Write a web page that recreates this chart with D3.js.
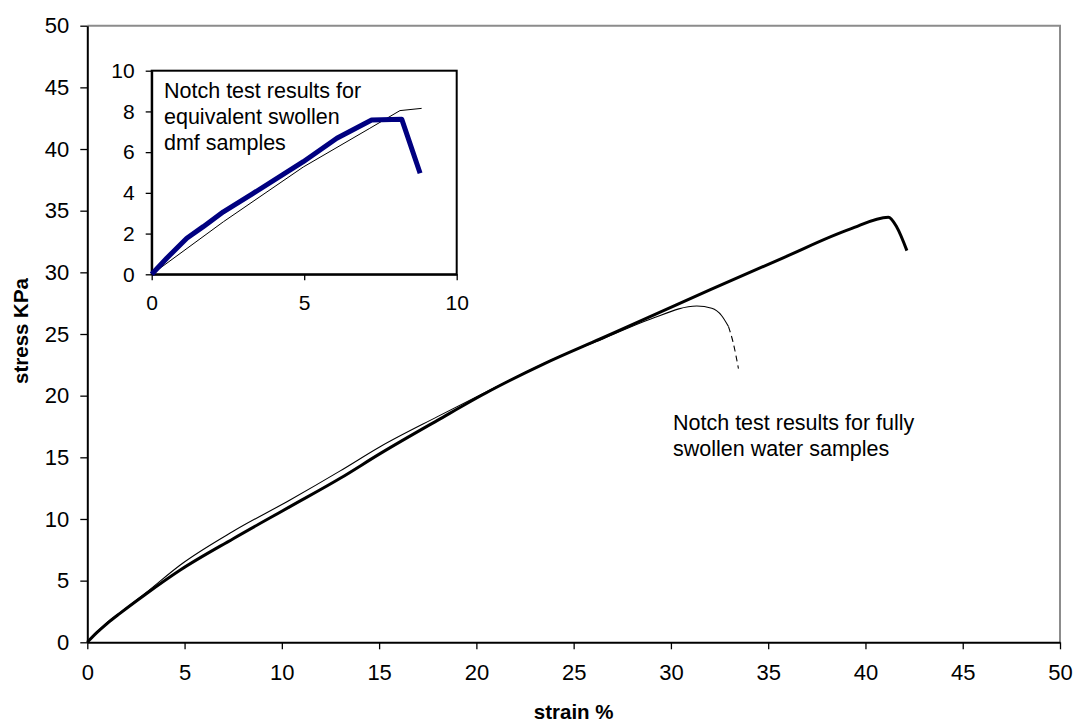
<!DOCTYPE html>
<html>
<head>
<meta charset="utf-8">
<script src="https://cdn.jsdelivr.net/npm/d3@7"></script>
<style>
  body { margin: 0; background: #fff; }
  svg { font-family: "Liberation Sans", Arial, sans-serif; }
</style>
</head>
<body>
<div id="chart"></div>
<script>
// main chart data: [strain %, stress KPa]
const waterThick = [[0, 0], [0.5, 0.8], [1, 1.5], [1.68, 2.35], [3, 3.9], [4.78, 5.86], [7.5, 8.4],
  [10.42, 11.0], [13, 13.3], [15.05, 15.3], [18, 18.0], [20.7, 20.4], [23.5, 22.6], [26.36, 24.6],
  [28.93, 26.4], [32, 28.57], [35.8, 31.2], [39.2, 33.5], [41.18, 34.47], [41.6, 33.7], [42.13, 31.76]];
const waterThin = [[0, 0], [0.5, 0.85], [1, 1.6], [1.68, 2.4], [3, 4.0], [4.78, 6.27], [7.5, 9.0],
  [10.42, 11.54], [13, 13.9], [15.05, 15.86], [18, 18.3], [21, 20.7], [24, 23.0], [26.5, 24.6],
  [28.93, 26.2], [31.33, 27.27], [32.1, 27.08], [32.6, 26.5], [32.96, 25.6]];
const waterThinTail = [[32.96, 25.6], [33.2, 24.3], [33.47, 22.2]];

// inset data
const dmfThick = [[0, 0], [0.5, 0.8], [1.15, 1.77], [1.69, 2.34], [2.35, 3.07], [3.3, 3.95], [4.97, 5.53],
  [6.07, 6.68], [7.21, 7.58], [8.2, 7.61], [8.8, 4.96]];
const dmfThin = [[0, 0], [2.35, 2.58], [4.97, 5.27], [7.15, 7.17], [8.14, 8.04], [8.85, 8.15]];

const mainTicks = [0, 5, 10, 15, 20, 25, 30, 35, 40, 45, 50];
const insetYTicks = [0, 2, 4, 6, 8, 10];
const insetXTicks = [0, 5, 10];

const mainNote = ["Notch test results for fully", "swollen water samples"];
const insetNote = ["Notch test results for", "equivalent swollen", "dmf samples"];

const W = 1075, H = 727;
const MARGIN = { LEFT: 87.3, RIGHT: 1075 - 1060, TOP: 25.7, BOTTOM: 727 - 642.3 };
const WIDTH = W - MARGIN.LEFT - MARGIN.RIGHT;
const HEIGHT = H - MARGIN.TOP - MARGIN.BOTTOM;

const svg = d3.select("#chart").append("svg")
  .attr("width", W)
  .attr("height", H);

const g = svg.append("g")
  .attr("transform", `translate(${MARGIN.LEFT}, ${MARGIN.TOP})`);

const x = d3.scaleLinear().domain([0, 50]).range([0, WIDTH]);
const y = d3.scaleLinear().domain([0, 50]).range([HEIGHT, 0]);

// top / right frame in grey
g.append("path")
  .attr("d", `M0,0H${WIDTH}V${HEIGHT}`)
  .attr("fill", "none")
  .attr("stroke", "#8c8c8c")
  .attr("stroke-width", 2);

const xAxis = g.append("g")
  .attr("transform", `translate(0, ${HEIGHT})`)
  .call(d3.axisBottom(x).tickValues(mainTicks).tickSize(7).tickPadding(15).tickSizeOuter(0));
const yAxis = g.append("g")
  .call(d3.axisLeft(y).tickValues(mainTicks).tickSize(7).tickPadding(11).tickSizeOuter(0));

[xAxis, yAxis].forEach(a => {
  a.select(".domain").attr("stroke", "#000").attr("stroke-width", 2);
  a.selectAll(".tick line").attr("stroke", "#000").attr("stroke-width", 1.3);
  a.selectAll(".tick text")
    .attr("font-family", "Liberation Sans, Arial, sans-serif")
    .attr("font-size", "22px")
    .attr("fill", "#000");
});

// axis labels
g.append("text")
  .attr("x", WIDTH / 2)
  .attr("y", H - MARGIN.TOP - 8)
  .attr("text-anchor", "middle")
  .attr("font-size", "20.5px")
  .attr("font-weight", "bold")
  .text("strain %");

g.append("text")
  .attr("transform", "rotate(-90)")
  .attr("x", -HEIGHT / 2 + 3)
  .attr("y", -MARGIN.LEFT + 28)
  .attr("text-anchor", "middle")
  .attr("font-size", "20.5px")
  .attr("font-weight", "bold")
  .text("stress KPa");

const line = d3.line().x(d => x(d[0])).y(d => y(d[1])).curve(d3.curveMonotoneX);

g.append("path")
  .attr("d", line(waterThin))
  .attr("fill", "none")
  .attr("stroke", "#000")
  .attr("stroke-width", 1.1);
g.append("path")
  .attr("d", line(waterThinTail))
  .attr("fill", "none")
  .attr("stroke", "#000")
  .attr("stroke-width", 1.1)
  .attr("stroke-dasharray", "6,4");
g.append("path")
  .attr("d", line(waterThick))
  .attr("fill", "none")
  .attr("stroke", "#000")
  .attr("stroke-width", 3)
  .attr("stroke-linejoin", "round");

g.append("text")
  .attr("font-size", "21.5px")
  .selectAll("tspan")
  .data(mainNote)
  .join("tspan")
  .attr("x", 673 - MARGIN.LEFT)
  .attr("y", (d, i) => 430 - MARGIN.TOP + i * 26)
  .text(d => d);

// Inset
const IN = { LEFT: 151.7, TOP: 70.7, RIGHT: 456.7, BOTTOM: 274.3 };
const ix = d3.scaleLinear().domain([0, 10]).range([IN.LEFT, IN.RIGHT]);
const iy = d3.scaleLinear().domain([0, 10]).range([IN.BOTTOM, IN.TOP]);

svg.append("rect")
  .attr("x", IN.LEFT)
  .attr("y", IN.TOP)
  .attr("width", IN.RIGHT - IN.LEFT)
  .attr("height", IN.BOTTOM - IN.TOP)
  .attr("fill", "#fff")
  .attr("stroke", "#000")
  .attr("stroke-width", 2);

const ixAxis = svg.append("g")
  .attr("transform", `translate(0, ${IN.BOTTOM})`)
  .call(d3.axisBottom(ix).tickValues(insetXTicks).tickSize(6).tickPadding(15).tickSizeOuter(0));
const iyAxis = svg.append("g")
  .attr("transform", `translate(${IN.LEFT}, 0)`)
  .call(d3.axisLeft(iy).tickValues(insetYTicks).tickSize(6).tickPadding(11).tickSizeOuter(0));

[ixAxis, iyAxis].forEach(a => {
  a.select(".domain").attr("stroke", "#000").attr("stroke-width", 2);
  a.selectAll(".tick line").attr("stroke", "#000").attr("stroke-width", 1.3);
  a.selectAll(".tick text")
    .attr("font-family", "Liberation Sans, Arial, sans-serif")
    .attr("font-size", "21px")
    .attr("fill", "#000");
});

const iline = d3.line().x(d => ix(d[0])).y(d => iy(d[1]));

svg.append("path")
  .attr("d", iline(dmfThin))
  .attr("fill", "none")
  .attr("stroke", "#000")
  .attr("stroke-width", 1);
svg.append("path")
  .attr("d", iline(dmfThick))
  .attr("fill", "none")
  .attr("stroke", "#000080")
  .attr("stroke-width", 5)
  .attr("stroke-linejoin", "round");

svg.append("text")
  .attr("font-size", "21.5px")
  .selectAll("tspan")
  .data(insetNote)
  .join("tspan")
  .attr("x", 164)
  .attr("y", (d, i) => 98 + i * 26)
  .text(d => d);
</script>
</body>
</html>
